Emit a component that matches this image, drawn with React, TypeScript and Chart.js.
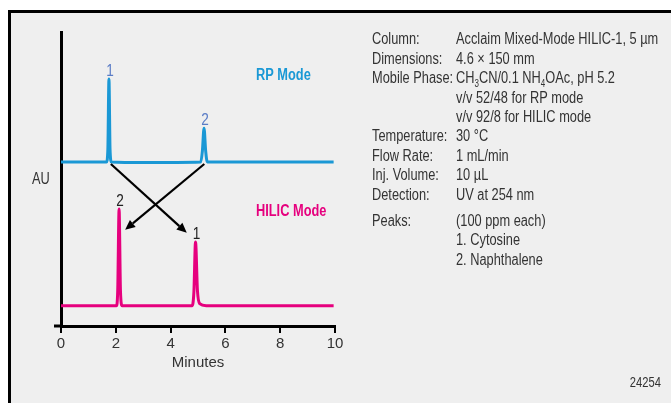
import React, { useEffect, useRef } from "react";
import { Chart, registerables } from "chart.js";

Chart.register(...registerables);

// ---- data ----
const rpTimes = [0, 1.66, 1.71, 1.75, 1.79, 1.84, 3.0, 5.1, 5.16, 5.22, 5.28, 5.34, 9.95];
const rpValues = [55.8, 55.8, 60, 84, 60, 55.8, 55.6, 55.8, 59.5, 67.3, 59.5, 55.8, 55.8];
const hilicTimes = [0, 2.02, 2.07, 2.12, 2.17, 2.23, 4.78, 4.85, 4.91, 4.98, 5.06, 5.3, 9.95];
const hilicValues = [6.9, 6.9, 12, 39.8, 12, 6.9, 6.9, 11.5, 28.6, 12, 7.6, 6.9, 6.9];
const xTicks = [0, 2, 4, 6, 8, 10];

const rpPeakLabels = ["1", "2"];
const rpPeakPos = [[1.75, 84], [5.22, 67.3]];
const hilicPeakLabels = ["2", "1"];
const hilicPeakPos = [[2.12, 39.8], [4.91, 28.6]];

const arrowFrom = [[1.82, 55.1], [5.23, 55.1]];
const arrowTo = [[4.59, 31.7], [2.34, 32.7]];

const infoLabels = [
  "Column:", "Dimensions:", "Mobile Phase:", "", "", "Temperature:",
  "Flow Rate:", "Inj. Volume:", "Detection:", "Peaks:", "", "",
];
const infoValues = [
  "Acclaim Mixed-Mode HILIC-1, 5 µm",
  "4.6 × 150 mm",
  "CH_3CN/0.1 NH_4OAc, pH 5.2",
  "v/v 52/48 for RP mode",
  "v/v 92/8 for HILIC mode",
  "30 °C",
  "1 mL/min",
  "10 µL",
  "UV at 254 nm",
  "(100 ppm each)",
  "1. Cytosine",
  "2. Naphthalene",
];
const figureId = "24254";

const FONT = '"Liberation Sans", Arial, sans-serif';
const TEXT = "#333333";
const RP_COLOR = "#1a98d5";
const HILIC_COLOR = "#e6007e";
const SQUEEZE = 0.8; // horizontal condensing of annotation text

// draw condensed text; returns advance width
function cText(ctx: CanvasRenderingContext2D, s: string, x: number, y: number, align: "left" | "center" | "right" = "left") {
  const w = ctx.measureText(s).width * SQUEEZE;
  let sx = x;
  if (align === "center") sx = x - w / 2;
  if (align === "right") sx = x - w;
  ctx.save();
  ctx.textAlign = "left";
  ctx.translate(sx, y);
  ctx.scale(SQUEEZE, 1);
  ctx.fillText(s, 0, 0);
  ctx.restore();
  return w;
}

function drawSubText(ctx: CanvasRenderingContext2D, s: string, x: number, y: number, size: number) {
  const parts = s.split(/(_\d)/);
  let cx = x;
  for (const p of parts) {
    if (!p) continue;
    if (p.startsWith("_")) {
      ctx.font = `${Math.round(size * 0.6)}px ${FONT}`;
      cx += cText(ctx, p.slice(1), cx, y + 4);
    } else {
      ctx.font = `${size}px ${FONT}`;
      cx += cText(ctx, p, cx, y);
    }
  }
}

const decor = {
  id: "decor",
  beforeDraw(chart: any) {
    const ctx = chart.ctx as CanvasRenderingContext2D;
    ctx.save();
    ctx.fillStyle = "#ffffff";
    ctx.fillRect(0, 0, chart.width, chart.height);
    ctx.fillStyle = "#efefef";
    ctx.fillRect(8, 10, chart.width - 8, chart.height - 10);
    ctx.fillStyle = "#000000";
    ctx.fillRect(8, 10, 3, chart.height - 10);
    ctx.fillRect(8, 10, chart.width - 8, 3);
    ctx.restore();
  },
  afterDraw(chart: any) {
    const ctx = chart.ctx as CanvasRenderingContext2D;
    const xs = chart.scales.x;
    const ys = chart.scales.y;
    const area = chart.chartArea;
    ctx.save();
    // x axis extension to the left of the y axis
    ctx.strokeStyle = "#000";
    ctx.lineWidth = 3;
    ctx.beginPath();
    ctx.moveTo(area.left - 7, area.bottom);
    ctx.lineTo(area.left, area.bottom);
    ctx.stroke();

    // arrows
    ctx.lineWidth = 2.2;
    ctx.fillStyle = "#000";
    for (let i = 0; i < arrowFrom.length; i++) {
      const x1 = xs.getPixelForValue(arrowFrom[i][0]);
      const y1 = ys.getPixelForValue(arrowFrom[i][1]);
      const x2 = xs.getPixelForValue(arrowTo[i][0]);
      const y2 = ys.getPixelForValue(arrowTo[i][1]);
      const ang = Math.atan2(y2 - y1, x2 - x1);
      const hl = 10, hw = 4.5;
      const bx = x2 - hl * Math.cos(ang);
      const by = y2 - hl * Math.sin(ang);
      ctx.beginPath();
      ctx.moveTo(x1, y1);
      ctx.lineTo(bx, by);
      ctx.stroke();
      ctx.beginPath();
      ctx.moveTo(x2, y2);
      ctx.lineTo(bx + hw * Math.sin(ang), by - hw * Math.cos(ang));
      ctx.lineTo(bx - hw * Math.sin(ang), by + hw * Math.cos(ang));
      ctx.closePath();
      ctx.fill();
    }

    // peak labels
    ctx.textBaseline = "alphabetic";
    ctx.font = `17px ${FONT}`;
    ctx.fillStyle = "#5a7cc6";
    rpPeakLabels.forEach((l, i) => {
      cText(ctx, l, xs.getPixelForValue(rpPeakPos[i][0]) + 1, ys.getPixelForValue(rpPeakPos[i][1]) - 3, "center");
    });
    ctx.fillStyle = "#222";
    hilicPeakLabels.forEach((l, i) => {
      cText(ctx, l, xs.getPixelForValue(hilicPeakPos[i][0]) + 1, ys.getPixelForValue(hilicPeakPos[i][1]) - 3, "center");
    });

    // mode labels
    ctx.font = `bold 16px ${FONT}`;
    ctx.fillStyle = RP_COLOR;
    cText(ctx, "RP Mode", 256, 80);
    ctx.fillStyle = HILIC_COLOR;
    cText(ctx, "HILIC Mode", 256, 216);

    // AU
    ctx.font = `16px ${FONT}`;
    ctx.fillStyle = TEXT;
    cText(ctx, "AU", 32, 184);

    // info block
    for (let i = 0; i < infoLabels.length; i++) {
      const y = 38.5 + i * 19.4 + (i >= 9 ? 7 : 0) + 5.8;
      ctx.font = `16px ${FONT}`;
      if (infoLabels[i]) cText(ctx, infoLabels[i], 372, y);
      drawSubText(ctx, infoValues[i], 456, y, 16);
    }

    ctx.font = `14px ${FONT}`;
    cText(ctx, figureId, 661, 386.5, "right");
    ctx.restore();
  },
};

export default function App() {
  const ref = useRef<HTMLCanvasElement>(null);
  useEffect(() => {
    if (!ref.current) return;
    const chart = new Chart(ref.current, {
      type: "line",
      data: {
        datasets: [
          {
            label: "RP Mode",
            data: rpTimes.map((t, i) => ({ x: t, y: rpValues[i] })),
            borderColor: RP_COLOR,
            borderWidth: 3,
            pointRadius: 0,
            cubicInterpolationMode: "monotone",
          },
          {
            label: "HILIC Mode",
            data: hilicTimes.map((t, i) => ({ x: t, y: hilicValues[i] })),
            borderColor: HILIC_COLOR,
            borderWidth: 3,
            pointRadius: 0,
            cubicInterpolationMode: "monotone",
          },
        ],
      },
      options: {
        animation: false,
        responsive: false,
        events: [],
        layout: { padding: { left: 61, top: 32, right: 336, bottom: 31 } },
        plugins: { legend: { display: false }, tooltip: { enabled: false } },
        scales: {
          x: {
            type: "linear",
            min: 0,
            max: 10,
            afterBuildTicks: (s: any) => { s.ticks = xTicks.map((v) => ({ value: v })); },
            afterFit: (s: any) => { s.height = 46; },
            ticks: { color: TEXT, font: { family: FONT, size: 15 }, padding: 2, maxRotation: 0 },
            grid: { display: true, drawOnChartArea: false, drawTicks: true, tickLength: 7, color: "#000", lineWidth: 2 },
            border: { display: true, color: "#000", width: 3 },
            title: { display: true, text: "Minutes", color: TEXT, font: { family: FONT, size: 15 }, padding: { top: 0, bottom: 0 } },
          },
          y: {
            min: 0,
            max: 100,
            afterFit: (s: any) => { s.width = 0; },
            ticks: { display: false },
            grid: { display: false },
            border: { display: true, color: "#000", width: 3 },
          },
        },
      },
      plugins: [decor],
    } as any);
    return () => chart.destroy();
  }, []);
  return (
    <div style={{ position: "fixed", left: 0, top: 0, width: 671, height: 403 }}>
      <canvas ref={ref} width={671} height={403} style={{ display: "block", width: 671, height: 403 }} />
    </div>
  );
}
